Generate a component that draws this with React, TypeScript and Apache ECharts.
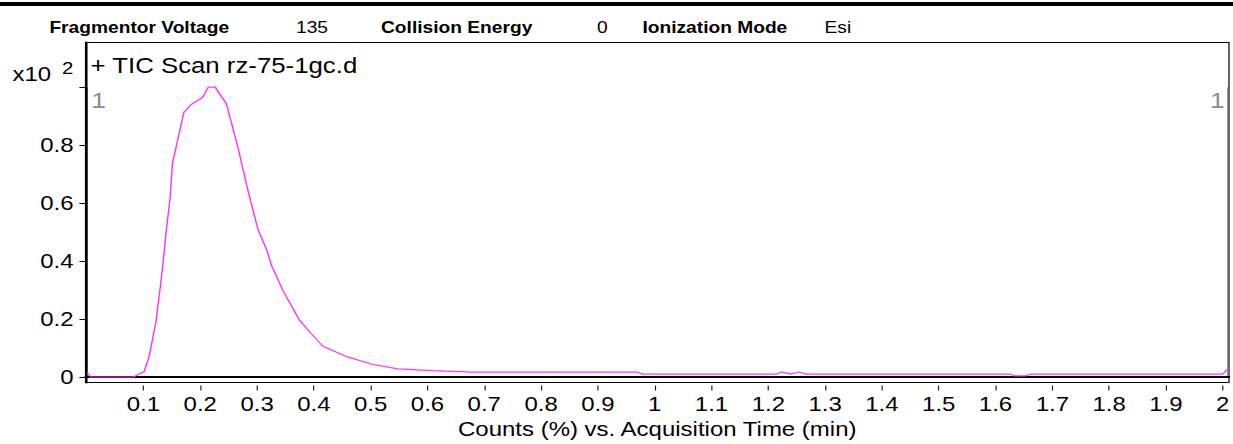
import React, { useEffect, useRef } from 'react';
import * as echarts from 'echarts';

// ---- data ----
const headerLabels = ['Fragmentor Voltage', 'Collision Energy', 'Ionization Mode'];
const headerValues = ['135', '0', 'Esi'];
const titleText = '+ TIC Scan rz-75-1gc.d';
const xAxisName = 'Counts (%) vs. Acquisition Time (min)';
const exponentBase = 'x10';
const exponentPower = '2';
const scaleBarLabel = '1';
const xTickValues = [0.1, 0.2, 0.3, 0.4, 0.5, 0.6, 0.7, 0.8, 0.9, 1, 1.1, 1.2, 1.3, 1.4, 1.5, 1.6, 1.7, 1.8, 1.9, 2];
const yTickValues = [0, 0.2, 0.4, 0.6, 0.8, 1];
const yLabelValues = [0, 0.2, 0.4, 0.6, 0.8];
const times = [0.001, 0.007, 0.082, 0.101, 0.110, 0.122, 0.132, 0.140, 0.147, 0.151, 0.171, 0.185, 0.204, 0.214, 0.226, 0.246, 0.266, 0.285, 0.302, 0.317, 0.326, 0.346, 0.375, 0.395, 0.416, 0.458, 0.502, 0.548, 0.610, 0.680, 0.968, 0.979, 1.215, 1.223, 1.240, 1.254, 1.267, 1.625, 1.633, 1.654, 1.663, 2.000, 2.010];
const counts = [0.014, 0.000, 0.000, 0.018, 0.070, 0.190, 0.348, 0.500, 0.620, 0.736, 0.912, 0.941, 0.964, 1.000, 1.000, 0.943, 0.795, 0.635, 0.507, 0.439, 0.382, 0.297, 0.195, 0.150, 0.106, 0.070, 0.044, 0.028, 0.022, 0.017, 0.017, 0.010, 0.010, 0.017, 0.010, 0.017, 0.010, 0.010, 0.004, 0.004, 0.010, 0.010, 0.030];

// ---- layout ----
const FULL_W = 1233;
const H = 444;
const W = 1028;
const S = FULL_W / W; // horizontal stretch of the chart image
const sx = (x: number) => x / S;
const FONT = '"Liberation Sans", Arial, sans-serif';

export default function App() {
  const ref = useRef<HTMLDivElement>(null);
  useEffect(() => {
    if (!ref.current) return;
    const chart = echarts.init(ref.current, null, { renderer: 'svg', width: W, height: H });
    const gridLeft = sx(85.5);
    const gridRight = W - sx(1229.5);
    const axisLabelStyle = { fontFamily: FONT, fontSize: 20, color: '#000' };
    chart.setOption({
      animation: false,
      grid: {
        left: gridLeft,
        right: gridRight,
        top: 42.5,
        bottom: H - 388,
        show: true,
        borderColor: '#000',
        borderWidth: 1,
        backgroundColor: 'transparent',
      },
      xAxis: [
        {
          type: 'value',
          min: -0.002,
          max: 2.011,
          axisLine: { show: true, lineStyle: { color: '#000', width: 2 } },
          axisTick: { show: false },
          axisLabel: { show: false },
          splitLine: { show: false },
        },
        {
          type: 'value',
          min: -0.002,
          max: 2.011,
          position: 'bottom',
          offset: 3,
          axisLine: { show: false },
          axisTick: { show: true, length: 5, customValues: xTickValues, lineStyle: { color: '#222', width: 1 } },
          axisLabel: {
            show: true,
            customValues: xTickValues,
            margin: 8.5,
            ...axisLabelStyle,
            formatter: (v: number) => String(+v.toFixed(1)),
          },
          splitLine: { show: false },
          name: xAxisName,
          nameLocation: 'middle',
          nameGap: 29,
          nameTextStyle: { fontFamily: FONT, fontSize: 20, color: '#000' },
        },
      ],
      yAxis: {
        type: 'value',
        min: -0.0194,
        max: 1.154,
        axisLine: { show: true, lineStyle: { color: '#000', width: 2 } },
        axisTick: { show: true, length: 6, customValues: yTickValues, lineStyle: { color: '#000', width: 1 } },
        axisLabel: {
          show: true,
          customValues: yLabelValues,
          margin: 10,
          ...axisLabelStyle,
          formatter: (v: number) => String(+v.toFixed(1)),
        },
        splitLine: { show: false },
      },
      series: [
        {
          type: 'line',
          xAxisIndex: 0,
          yAxisIndex: 0,
          data: times.map((t, i) => [t, counts[i]]),
          showSymbol: false,
          silent: true,
          lineStyle: { color: '#ff33ff', width: 1.2 },
        },
      ],
    });

    const y1 = chart.convertToPixel({ yAxisIndex: 0 }, 1) as number;
    const y0 = chart.convertToPixel({ yAxisIndex: 0 }, 0) as number;
    const leftBarX = gridLeft + sx(1.8);
    const rightBarX = W - gridRight - sx(1.8);
    const headerFont = { fontFamily: FONT, fontSize: 16, fill: '#000' };
    const headerY = 27.5;
    const headerPos = [49.4, 381, 642.4];
    const valuePos = [296, 597, 824.5];
    chart.setOption({
      graphic: [
        { type: 'rect', shape: { x: 0, y: 2, width: W, height: 4 }, style: { fill: '#000' }, silent: true },
        ...headerLabels.map((t, i) => ({
          type: 'text', x: sx(headerPos[i]), y: headerY, silent: true,
          style: { text: t, ...headerFont, fontWeight: 'bold', textAlign: 'left', textVerticalAlign: 'middle' },
        })),
        ...headerValues.map((t, i) => ({
          type: 'text', x: sx(valuePos[i]), y: headerY, silent: true,
          style: { text: t, ...headerFont, textAlign: 'left', textVerticalAlign: 'middle' },
        })),
        {
          type: 'text', x: sx(90.5), y: 66, silent: true,
          style: { text: titleText, fontFamily: FONT, fontSize: 21.5, fill: '#000', textAlign: 'left', textVerticalAlign: 'middle' },
        },
        {
          type: 'text', x: sx(12.5), y: 74.5, silent: true,
          style: { text: exponentBase, fontFamily: FONT, fontSize: 20, fill: '#000', textAlign: 'left', textVerticalAlign: 'middle' },
        },
        {
          type: 'text', x: sx(62), y: 68, silent: true,
          style: { text: exponentPower, fontFamily: FONT, fontSize: 17, fill: '#000', textAlign: 'left', textVerticalAlign: 'middle' },
        },
        { type: 'line', shape: { x1: leftBarX, y1: y1, x2: leftBarX, y2: y0 }, style: { stroke: '#888', lineWidth: 1 }, silent: true },
        { type: 'line', shape: { x1: rightBarX, y1: y1, x2: rightBarX, y2: y0 }, style: { stroke: '#888', lineWidth: 1 }, silent: true },
        {
          type: 'text', x: leftBarX + sx(4), y: y1 + 13.5, silent: true,
          style: { text: scaleBarLabel, fontFamily: FONT, fontSize: 22, fill: '#8c8c8c', textAlign: 'left', textVerticalAlign: 'middle' },
        },
        {
          type: 'text', x: rightBarX - sx(3), y: y1 + 13.5, silent: true,
          style: { text: scaleBarLabel, fontFamily: FONT, fontSize: 22, fill: '#8c8c8c', textAlign: 'right', textVerticalAlign: 'middle' },
        },
      ],
    });
    return () => chart.dispose();
  }, []);

  return (
    <div style={{ position: 'absolute', left: 0, top: 0, width: FULL_W, height: H, overflow: 'hidden', background: '#fff' }}>
      <div
        ref={ref}
        style={{ width: W, height: H, transform: `scaleX(${S})`, transformOrigin: '0 0' }}
      />
    </div>
  );
}
